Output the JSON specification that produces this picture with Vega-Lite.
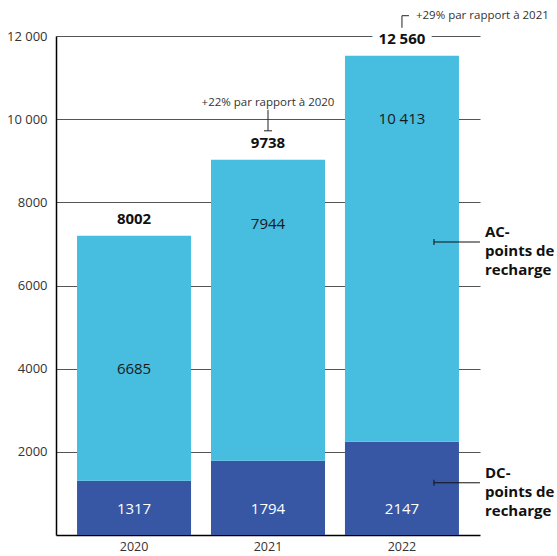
{
  "$schema": "https://vega.github.io/schema/vega-lite/v6.json",
  "autosize": {"type": "none"},
  "padding": {"left": 56, "top": 36, "right": 77, "bottom": 21},
  "width": 424,
  "height": 499,
  "config": {"view": {"stroke": null}, "font": "Open Sans"},
  "datasets": {
    "bars": [
      {"year": "2020", "type": "DC", "value": 1303},
      {"year": "2020", "type": "AC", "value": 5892},
      {"year": "2021", "type": "DC", "value": 1784},
      {"year": "2021", "type": "AC", "value": 7240},
      {"year": "2022", "type": "DC", "value": 2241},
      {"year": "2022", "type": "AC", "value": 9283}
    ],
    "labels": [
      {"year": "2020", "type": "AC", "pos": 4000, "label": "6685"},
      {"year": "2021", "type": "AC", "pos": 7480, "label": "7944"},
      {"year": "2022", "type": "AC", "pos": 10000, "label": "10 413"},
      {"year": "2020", "type": "DC", "pos": 630, "label": "1317"},
      {"year": "2021", "type": "DC", "pos": 630, "label": "1794"},
      {"year": "2022", "type": "DC", "pos": 630, "label": "2147"}
    ],
    "totals": [
      {"year": "2020", "top": 7195, "label": "8002"},
      {"year": "2021", "top": 9024, "label": "9738"},
      {"year": "2022", "top": 11524, "label": "12 560"}
    ],
    "series": [
      {"series": "AC", "pos": 7046, "lines": ["AC-", "points de", "recharge"]},
      {"series": "DC", "pos": 1256, "lines": ["DC-", "points de", "recharge"]}
    ]
  },
  "layer": [
    {
      "data": {"name": "bars"},
      "mark": {"type": "bar"},
      "encoding": {
        "x": {
          "field": "year", "type": "nominal",
          "scale": {"paddingInner": 0.149, "paddingOuter": 0.157},
          "axis": {"title": null, "labelAngle": 0, "labelFontSize": 12.5, "labelColor": "#333", "labelPadding": 5, "ticks": false, "domainColor": "#000", "domainWidth": 1.5}
        },
        "y": {
          "field": "value", "type": "quantitative",
          "scale": {"domain": [0, 12000], "nice": false},
          "axis": {
            "title": null, "values": [2000, 4000, 6000, 8000, 10000, 12000],
            "grid": true, "gridColor": "#555", "gridWidth": 1, "ticks": false,
            "domainColor": "#000", "domainWidth": 1.5,
            "labelFontSize": 13, "labelColor": "#333", "labelPadding": 9,
            "labelExpr": "datum.value >= 10000 ? replace(format(datum.value, ','), ',', ' ') : format(datum.value, 'd')"
          }
        },
        "color": {"field": "type", "type": "nominal", "scale": {"domain": ["AC", "DC"], "range": ["#47BDE0", "#3757A4"]}, "legend": null},
        "order": {"field": "type", "sort": "descending"}
      }
    },
    {
      "data": {"name": "labels"},
      "transform": [{"filter": "datum.type === 'AC'"}],
      "mark": {"type": "text", "fontSize": 15, "color": "#1a1a1a", "baseline": "middle"},
      "encoding": {
        "x": {"field": "year", "type": "nominal", "title": null},
        "y": {"field": "pos", "type": "quantitative", "title": null},
        "text": {"field": "label"}
      }
    },
    {
      "data": {"name": "labels"},
      "transform": [{"filter": "datum.type === 'DC'"}],
      "mark": {"type": "text", "fontSize": 15, "color": "#ffffff", "baseline": "middle"},
      "encoding": {
        "x": {"field": "year", "type": "nominal", "title": null},
        "y": {"field": "pos", "type": "quantitative", "title": null},
        "text": {"field": "label"}
      }
    },
    {
      "data": {"name": "totals"},
      "mark": {"type": "text", "fontSize": 15, "fontWeight": "bold", "color": "#ffffff", "stroke": "#ffffff", "strokeWidth": 14, "strokeJoin": "round", "baseline": "middle", "dy": -17},
      "encoding": {
        "x": {"field": "year", "type": "nominal", "title": null},
        "y": {"field": "top", "type": "quantitative", "title": null},
        "text": {"field": "label"}
      }
    },
    {
      "data": {"name": "totals"},
      "mark": {"type": "text", "fontSize": 15, "fontWeight": "bold", "color": "#111111", "baseline": "middle", "dy": -17},
      "encoding": {
        "x": {"field": "year", "type": "nominal", "title": null},
        "y": {"field": "top", "type": "quantitative", "title": null},
        "text": {"field": "label"}
      }
    },
    {
      "data": {"values": [{"year": "2021", "pos": 10390, "label": "+22% par rapport à 2020"}]},
      "mark": {"type": "text", "fontSize": 11.5, "color": "#333", "baseline": "middle", "align": "center"},
      "encoding": {
        "x": {"field": "year", "type": "nominal", "title": null},
        "y": {"field": "pos", "type": "quantitative", "title": null},
        "text": {"field": "label"}
      }
    },
    {
      "data": {"values": [{"year": "2022", "pos": 12488, "label": "+29% par rapport à 2021"}]},
      "mark": {"type": "text", "fontSize": 11.5, "color": "#333", "baseline": "middle", "align": "left", "dx": 14},
      "encoding": {
        "x": {"field": "year", "type": "nominal", "title": null},
        "y": {"field": "pos", "type": "quantitative", "title": null},
        "text": {"field": "label"}
      }
    },
    {
      "data": {"values": [{"year": "2021", "y1": 10225, "y2": 9720}, {"year": "2022", "y1": 12488, "y2": 12197}]},
      "mark": {"type": "rule", "color": "#222", "strokeWidth": 1},
      "encoding": {
        "x": {"field": "year", "type": "nominal", "title": null},
        "y": {"field": "y1", "type": "quantitative", "title": null},
        "y2": {"field": "y2"}
      }
    },
    {
      "data": {"values": [{"year": "2021", "pos": 9720}]},
      "mark": {"type": "rule", "color": "#222", "strokeWidth": 1, "xOffset": -4, "x2Offset": 4},
      "encoding": {
        "x": {"field": "year", "type": "nominal", "title": null},
        "x2": {"field": "year"},
        "y": {"field": "pos", "type": "quantitative", "title": null}
      }
    },
    {
      "data": {"values": [{"year": "2022", "pos": 12488}]},
      "mark": {"type": "rule", "color": "#222", "strokeWidth": 1, "xOffset": 0, "x2Offset": 7},
      "encoding": {
        "x": {"field": "year", "type": "nominal", "title": null},
        "x2": {"field": "year"},
        "y": {"field": "pos", "type": "quantitative", "title": null}
      }
    },
    {
      "data": {"name": "series"},
      "mark": {"type": "rule", "color": "#111", "strokeWidth": 1, "xOffset": 32, "x2Offset": 78},
      "encoding": {
        "x": {"datum": "2022", "type": "nominal", "title": null},
        "x2": {"datum": "2022"},
        "y": {"field": "pos", "type": "quantitative", "title": null}
      }
    },
    {
      "data": {"name": "series"},
      "mark": {"type": "rule", "color": "#111", "strokeWidth": 1, "xOffset": 32, "yOffset": -3, "y2Offset": 3},
      "encoding": {
        "x": {"datum": "2022", "type": "nominal", "title": null},
        "y": {"field": "pos", "type": "quantitative", "title": null},
        "y2": {"field": "pos"}
      }
    },
    {
      "data": {"name": "series"},
      "mark": {"type": "text", "fontSize": 15, "fontWeight": "bold", "color": "#111", "align": "left", "baseline": "middle", "dx": 83, "dy": -10, "lineHeight": 19},
      "encoding": {
        "x": {"datum": "2022", "type": "nominal", "title": null},
        "y": {"field": "pos", "type": "quantitative", "title": null},
        "text": {"field": "lines"}
      }
    }
  ]
}
